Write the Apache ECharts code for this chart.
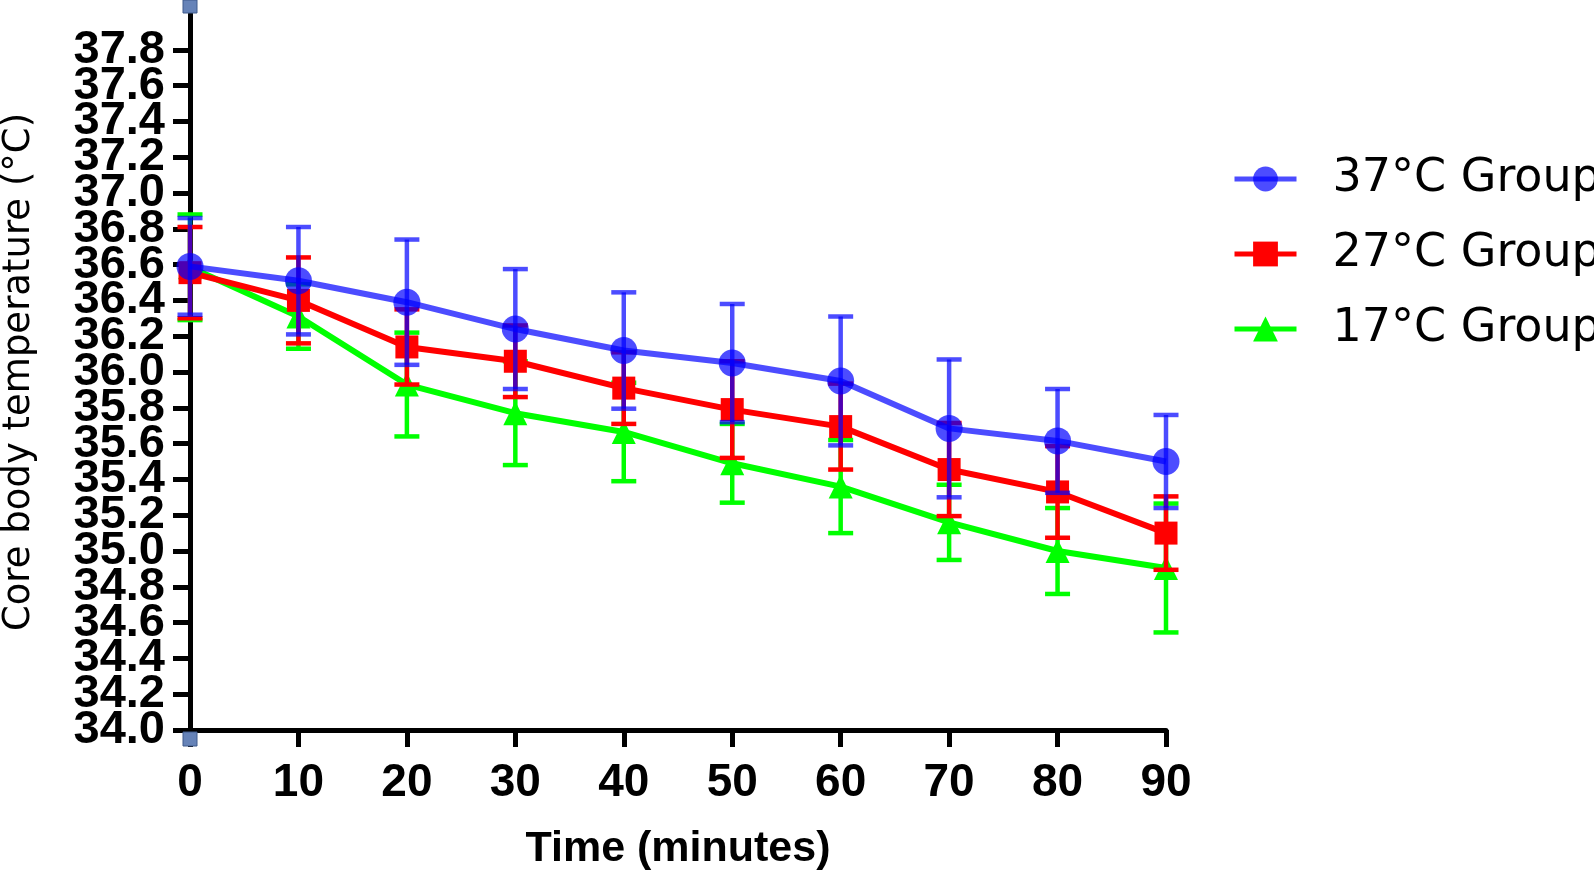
<!DOCTYPE html>
<html>
<head>
<meta charset="utf-8">
<script src="https://cdn.jsdelivr.net/npm/echarts@6/dist/echarts.min.js"></script>
<style>
html,body{margin:0;padding:0;background:#fff;}
#chart{width:1594px;height:871px;}
</style>
</head>
<body>
<div id="chart"></div>
<script>
// ---- data ----
const times = [0, 10, 20, 30, 40, 50, 60, 70, 80, 90];
const groupNames = ['37°C Group', '27°C Group', '17°C Group'];
const mean37 = [36.59, 36.51, 36.39, 36.24, 36.12, 36.05, 35.95, 35.685, 35.615, 35.50];
const sd37   = [0.27, 0.30, 0.35, 0.335, 0.325, 0.33, 0.36, 0.385, 0.29, 0.26];
const mean27 = [36.555, 36.40, 36.14, 36.06, 35.91, 35.79, 35.695, 35.455, 35.33, 35.10];
const sd27   = [0.255, 0.24, 0.21, 0.20, 0.20, 0.27, 0.24, 0.26, 0.256, 0.205];
const mean17 = [36.585, 36.31, 35.93, 35.77, 35.665, 35.49, 35.36, 35.16, 35.00, 34.905];
const sd17   = [0.295, 0.18, 0.29, 0.29, 0.275, 0.22, 0.26, 0.21, 0.24, 0.36];
const yTickValues = [34.0, 34.2, 34.4, 34.6, 34.8, 35.0, 35.2, 35.4, 35.6, 35.8, 36.0, 36.2, 36.4, 36.6, 36.8, 37.0, 37.2, 37.4, 37.6, 37.8];
const xTickValues = [0, 10, 20, 30, 40, 50, 60, 70, 80, 90];

const BLUE = '#0000ff', RED = '#ff0000', GREEN = '#00ff00';
const boldFont = '"Liberation Sans", Arial, sans-serif';
const regFont = '"DejaVu Sans", sans-serif';

// labels are split over two overlaid axes so that the tightly packed labels are all kept
const yLabelsA = yTickValues.filter((v, i) => i % 2 === 0);
const yLabelsB = yTickValues.filter((v, i) => i % 2 === 1);

function pairs(means) { return times.map((t, i) => [t, means[i]]); }

function errSeries(name, means, sds, color, z, opacity) {
  return {
    type: 'custom', name: name, z: z, silent: true, clip: false,
    data: times.map((t, i) => [t, means[i] - sds[i], means[i] + sds[i]]),
    encode: { x: 0, y: [1, 2] },
    renderItem: function (params, api) {
      const lo = api.coord([api.value(0), api.value(1)]);
      const hi = api.coord([api.value(0), api.value(2)]);
      const hw = 12.5;
      const style = { stroke: color, lineWidth: 4.5, opacity: opacity };
      return {
        type: 'group', children: [
          { type: 'line', shape: { x1: lo[0], y1: lo[1], x2: hi[0], y2: hi[1] }, style: style },
          { type: 'line', shape: { x1: hi[0] - hw, y1: hi[1], x2: hi[0] + hw, y2: hi[1] }, style: style },
          { type: 'line', shape: { x1: lo[0] - hw, y1: lo[1], x2: lo[0] + hw, y2: lo[1] }, style: style }
        ]
      };
    }
  };
}

function lineSeries(name, means, color, symbol, size, z, opacity) {
  return {
    type: 'line', name: name, z: z, data: pairs(means),
    symbol: symbol, symbolSize: size, showAllSymbol: true,
    lineStyle: { color: color, width: 6, opacity: opacity },
    itemStyle: { color: color, opacity: opacity },
    emphasis: { disabled: true }, animation: false
  };
}

const yLabelStyle = {
  fontFamily: boldFont, fontWeight: 'bold', fontSize: 47, color: '#000', margin: 25,
  hideOverlap: false, showMinLabel: true, showMaxLabel: true,
  formatter: function (v) { return Number(v).toFixed(1); }
};

const chart = echarts.init(document.getElementById('chart'), null, { renderer: 'canvas' });
const option = {
  animation: false,
  backgroundColor: '#ffffff',
  grid: { left: 190, right: 428, top: 14, bottom: 141, containLabel: false, outerBoundsMode: 'none' },
  legend: {
    data: groupNames,
    orient: 'vertical',
    left: 1227, top: 151,
    itemWidth: 62, itemHeight: 31, itemGap: 29,
    lineStyle: { width: 5 },
    textStyle: { fontFamily: regFont, fontSize: 46, color: '#000', lineHeight: 46, padding: [0, 0, 0, 31] },
    selectedMode: false
  },
  xAxis: {
    type: 'value', min: 0, max: 90, interval: 10,
    name: 'Time (minutes)', nameLocation: 'middle', nameGap: 98,
    nameTextStyle: { fontFamily: boldFont, fontWeight: 'bold', fontSize: 43, color: '#000' },
    axisLine: { show: true, lineStyle: { color: '#000', width: 5 } },
    axisTick: { show: true, length: 17, lineStyle: { color: '#000', width: 5 }, customValues: xTickValues },
    axisLabel: { fontFamily: boldFont, fontWeight: 'bold', fontSize: 46, color: '#000', margin: 30, customValues: xTickValues, hideOverlap: false, showMinLabel: true, showMaxLabel: true },
    splitLine: { show: false }
  },
  yAxis: [
    {
      type: 'value', min: 34, max: 38, interval: 0.2, position: 'left',
      name: 'Core body temperature (°C)', nameLocation: 'middle', nameGap: 152,
      nameTextStyle: { fontFamily: regFont, fontSize: 37, color: '#000' },
      axisLine: { show: true, lineStyle: { color: '#000', width: 5 } },
      axisTick: { show: true, length: 17, lineStyle: { color: '#000', width: 5 }, customValues: yTickValues },
      axisLabel: Object.assign({ customValues: yLabelsA }, yLabelStyle),
      splitLine: { show: false }
    },
    {
      type: 'value', min: 34, max: 38, interval: 0.2, position: 'left', offset: 0,
      axisLine: { show: false }, axisTick: { show: false },
      axisLabel: Object.assign({ customValues: yLabelsB }, yLabelStyle),
      splitLine: { show: false }
    }
  ],
  series: [
    errSeries('17 err', mean17, sd17, GREEN, 1, 1),
    lineSeries(groupNames[2], mean17, GREEN, 'triangle', 24, 2, 1),
    errSeries('27 err', mean27, sd27, RED, 3, 1),
    lineSeries(groupNames[1], mean27, RED, 'rect', 23, 4, 1),
    errSeries('37 err', mean37, sd37, BLUE, 5, 0.7),
    lineSeries(groupNames[0], mean37, BLUE, 'circle', 27, 6, 0.7)
  ]
};
chart.setOption(option);

// selection-handle squares at the ends of the y axis (decoration)
const pTop = chart.convertToPixel({ gridIndex: 0 }, [0, 38]);
const pBot = chart.convertToPixel({ gridIndex: 0 }, [0, 34]);
const handleStyle = { fill: '#6683b8', stroke: '#3f5b8c', lineWidth: 1 };
chart.setOption({
  graphic: [
    { type: 'rect', z: 100, shape: { x: pTop[0] - 7, y: pTop[1] - 14, width: 14, height: 13 }, style: handleStyle },
    { type: 'rect', z: 100, shape: { x: pBot[0] - 7, y: pBot[1] + 2, width: 14, height: 14 }, style: handleStyle }
  ]
});
</script>
</body>
</html>
